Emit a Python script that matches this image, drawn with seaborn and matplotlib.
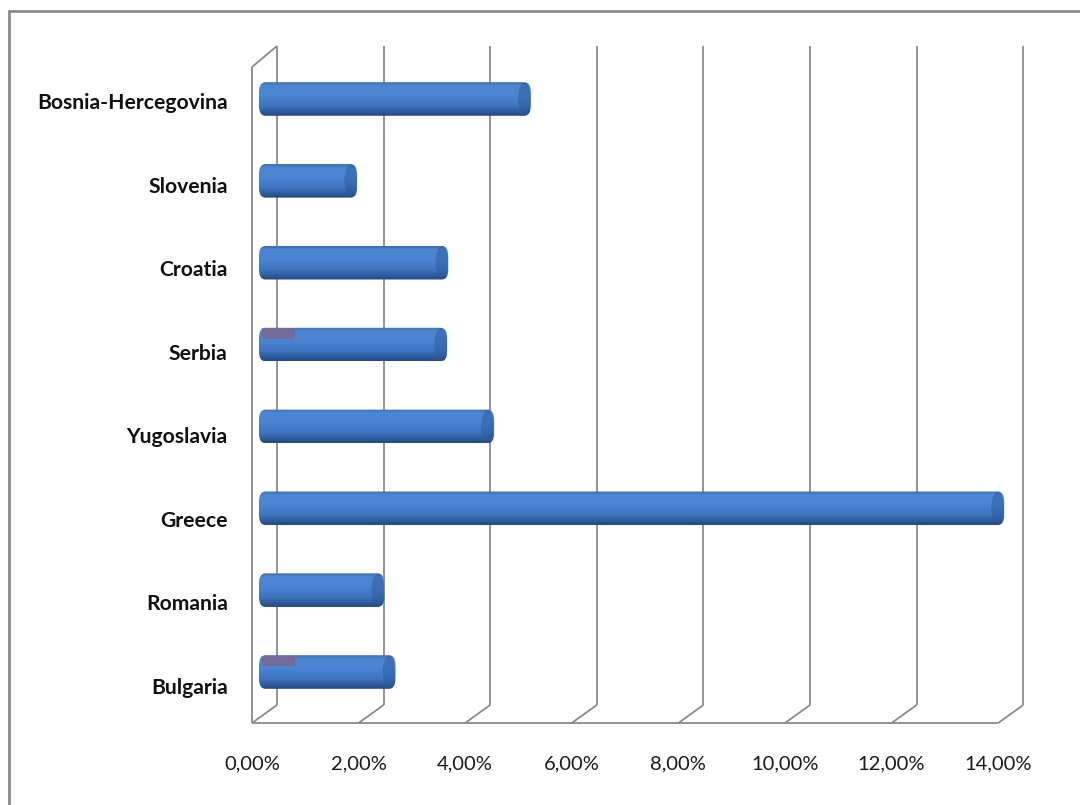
import numpy as np
import pandas as pd
import matplotlib
matplotlib.use("Agg")
import matplotlib.pyplot as plt
import seaborn as sns
from matplotlib.patches import FancyBboxPatch, Ellipse, Rectangle
from matplotlib.colors import LinearSegmentedColormap

# ---- data -------------------------------------------------------------
countries = ["Bosnia-Hercegovina", "Slovenia", "Croatia", "Serbia",
             "Yugoslavia", "Greece", "Romania", "Bulgaria"]
share = [5.10, 1.84, 3.55, 3.53, 4.41, 13.98, 2.35, 2.56]
share_other = [0.0, 0.0, 0.0, 0.62, 0.0, 0.0, 0.0, 0.62]
tick_values = [0, 2, 4, 6, 8, 10, 12, 14]
tick_labels = ["0,00%", "2,00%", "4,00%", "6,00%", "8,00%",
               "10,00%", "12,00%", "14,00%"]

df = pd.DataFrame({"country": countries, "share": share, "other": share_other})

# ---- style ------------------------------------------------------------
sns.set_theme(style="white")
plt.rcParams["font.family"] = ["Lato", "DejaVu Sans"]

W, H = 1080, 805
fig = plt.figure(figsize=(W / 100, H / 100), dpi=100)
fig.patch.set_facecolor("white")


def box(left, top, right, bottom):
    """Axes rectangle from pixel edges (origin at top-left)."""
    return [left / W, 1 - bottom / H, (right - left) / W, (bottom - top) / H]


SX = 53.3      # pixels per percent
SY_F = 83.57   # category spacing on the front plane
SY_B = 81.86   # category spacing on the bar plane
X_MAX = 15.0
X_MIN = -0.3

# front plane: walls, floor and labels
FX0, FY0 = 252, 101
ax = fig.add_axes(box(FX0 + X_MIN * SX, FY0 - 0.9 * SY_F,
                      FX0 + X_MAX * SX, FY0 + 7.646 * SY_F))
ax.set_xlim(X_MIN, X_MAX)
ax.set_ylim(7.646, -0.9)
ax.patch.set_alpha(0)
for s in ax.spines.values():
    s.set_visible(False)

line_kw = dict(color="#8a8a8a", lw=1.3, solid_capstyle="butt", zorder=1)
dx = 25 / SX
y_floor_f = (723 - FY0) / SY_F
y_floor_b = (705 - FY0) / SY_F
y_top_f = (67 - FY0) / SY_F
y_top_b = (46 - FY0) / SY_F

for t in tick_values:
    ax.plot([t + dx, t + dx], [y_top_b, y_floor_b], **line_kw)
    ax.plot([t, t + dx], [y_floor_f, y_floor_b], **line_kw)
ax.plot([0, tick_values[-1]], [y_floor_f, y_floor_f], **line_kw)
ax.plot([0, 0], [y_top_f, y_floor_f], **line_kw)
ax.plot([0, dx], [y_top_f, y_top_b], **line_kw)

ax.set_yticks(range(len(countries)))
ax.set_yticklabels(countries, fontsize=15.2, fontweight="bold", color="#111111")
ax.set_xticks(tick_values)
ax.set_xticklabels(tick_labels, fontsize=14.5, color="#1a1a1a")
ax.tick_params(axis="y", length=0, pad=6)
ax.tick_params(axis="x", length=0, pad=11)

# main cylinders and the thin second series over their top edge
BX0, BY0 = 259, 99
ax_main = fig.add_axes(box(BX0 + X_MIN * SX, BY0 - 0.5 * SY_B,
                           BX0 + X_MAX * SX, BY0 + 7.5 * SY_B))
ax_top = fig.add_axes(box(BX0 + 3 + X_MIN * SX, BY0 - 11 - 0.5 * SY_B,
                          BX0 + 3 + X_MAX * SX, BY0 - 11 + 7.5 * SY_B))
ax_main.set_zorder(2)
ax_top.set_zorder(3)

sns.barplot(data=df, x="share", y="country", orient="h", width=0.41,
            color="#4178c6", ax=ax_main)
sns.barplot(data=df, x="other", y="country", orient="h", width=0.13,
            color="#7d6290", ax=ax_top)

blue_cmap = LinearSegmentedColormap.from_list(
    "cyl_blue",
    [(0.00, "#3a6cb4"), (0.10, "#4f86d2"), (0.40, "#4a84d3"),
     (0.70, "#3f74c0"), (0.88, "#2f5b9c"), (1.00, "#244a80")])
grad = np.linspace(0, 1, 64).reshape(-1, 1)

for p in list(ax_main.patches):
    x0, y0, w, h = p.get_x(), p.get_y(), p.get_width(), p.get_height()
    p.set_visible(False)
    shape = FancyBboxPatch((x0, y0), w, h,
                           boxstyle="round,pad=0,rounding_size=0.12",
                           mutation_aspect=1.0, facecolor="none",
                           edgecolor="none", zorder=3)
    ax_main.add_patch(shape)
    im = ax_main.imshow(grad, cmap=blue_cmap, extent=(x0, x0 + w, y0 + h, y0),
                        origin="upper", aspect="auto", interpolation="bilinear",
                        zorder=3)
    im.set_clip_path(shape)
    end = Ellipse((x0 + w - 0.12, y0 + h / 2), 0.24, h * 0.98,
                  facecolor="#2a5796", edgecolor="none", alpha=0.45, zorder=4)
    ax_main.add_patch(end)
    end.set_clip_path(shape)

for p in ax_top.patches:
    p.set_alpha(0.8)
    p.set_edgecolor("none")

for a in (ax_main, ax_top):
    a.set_xlim(X_MIN, X_MAX)
    a.set_ylim(7.5, -0.5)
    a.set_axis_off()
    a.patch.set_alpha(0)

# outer chart border
fig.patches.append(Rectangle((9 / W, -0.05), 1.2, 1 - 11 / H + 0.05,
                             transform=fig.transFigure, fill=False,
                             edgecolor="#8c8c8c", lw=2, zorder=10))

fig.savefig("out.png", dpi=100, facecolor="white")
